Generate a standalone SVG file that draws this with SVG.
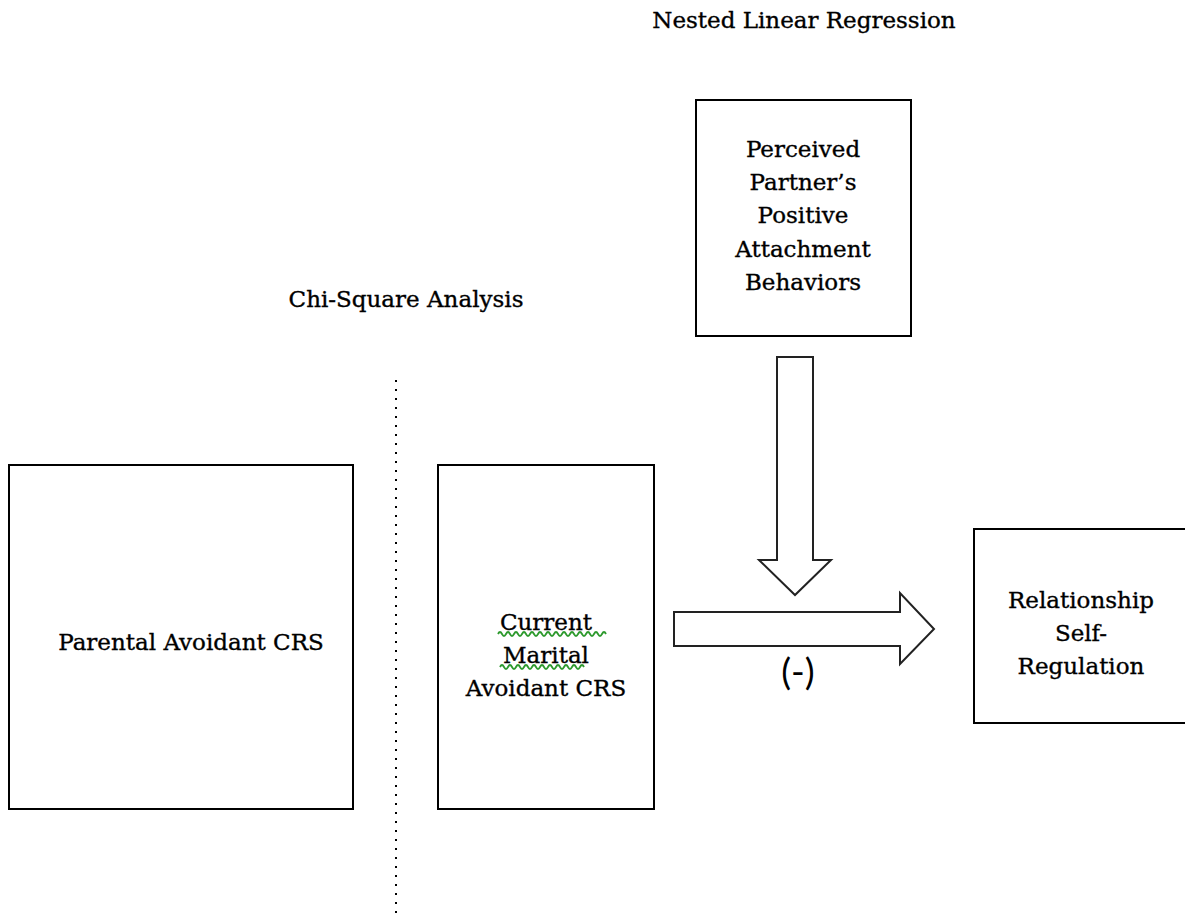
<svg xmlns="http://www.w3.org/2000/svg" width="1185" height="915" viewBox="0 0 1185 915">
  <style>
    .box { fill: #ffffff; stroke: #000000; stroke-width: 2; }
    .lbl { font-family: "DejaVu Serif", "Liberation Serif", serif; font-size: 23px; fill: #000000; stroke: #000000; stroke-width: 0.35; text-anchor: middle; }
    .title { font-family: "DejaVu Serif", "Liberation Serif", serif; font-size: 23px; fill: #000000; stroke: #000000; stroke-width: 0.35; text-anchor: middle; }
    .arrow { fill: #ffffff; stroke: #222222; stroke-width: 2; stroke-linejoin: miter; }
    .sign { font-family: Lato, "Liberation Sans", sans-serif; font-size: 37px; fill: #000000; text-anchor: middle; }
    .squiggle { fill: none; stroke: #2e9a2e; stroke-width: 1.8; }
  </style>
  <rect width="1185" height="915" fill="#ffffff"/>

  <!-- section headings -->
  <text class="title" x="804" y="28">Nested Linear Regression</text>
  <text class="title" x="406" y="307">Chi-Square Analysis</text>

  <!-- divider between analyses -->
  <line x1="396" y1="380" x2="396" y2="915" stroke="#000000" stroke-width="2" stroke-dasharray="2 7"/>

  <g id="node-parental">
    <rect class="box" x="9" y="465" width="344" height="344"/>
    <text class="lbl" x="191" y="650">Parental Avoidant CRS</text>
  </g>

  <g id="node-current">
    <rect class="box" x="438" y="465" width="216" height="344"/>
    <text class="lbl" x="546" y="630">Current</text>
    <text class="lbl" x="546" y="663">Marital</text>
    <text class="lbl" x="546" y="696">Avoidant CRS</text>
    <path class="squiggle" d="M498 634 q2 -4 4 0 t4 0 t4 0 t4 0 t4 0 t4 0 t4 0 t4 0 t4 0 t4 0 t4 0 t4 0 t4 0 t4 0 t4 0 t4 0 t4 0 t4 0 t4 0 t4 0 t4 0 t4 0 t4 0 t4 0 t4 0 t4 0 t4 0"/>
    <path class="squiggle" d="M500 667 q2 -4 4 0 t4 0 t4 0 t4 0 t4 0 t4 0 t4 0 t4 0 t4 0 t4 0 t4 0 t4 0 t4 0 t4 0 t4 0 t4 0 t4 0 t4 0 t4 0 t4 0 t4 0"/>
  </g>

  <g id="node-perceived">
    <rect class="box" x="696" y="100" width="215" height="236"/>
    <text class="lbl" x="803" y="157">Perceived</text>
    <text class="lbl" x="803" y="190">Partner’s</text>
    <text class="lbl" x="803" y="223">Positive</text>
    <text class="lbl" x="803" y="257">Attachment</text>
    <text class="lbl" x="803" y="290">Behaviors</text>
  </g>

  <g id="node-relationship">
    <rect class="box" x="974" y="529" width="220" height="194"/>
    <text class="lbl" x="1081" y="608">Relationship</text>
    <text class="lbl" x="1081" y="641">Self-</text>
    <text class="lbl" x="1081" y="674">Regulation</text>
  </g>

  <g id="connectors">
    <!-- moderator arrow pointing down onto the main path -->
    <path class="arrow" d="M777 357 H813 V560 H831 L795 595 L759 560 H777 Z"/>
    <!-- main path arrow -->
    <path class="arrow" d="M674 612 H900 V593 L934 629 L900 664 V646 H674 Z"/>
    <text class="sign" x="798" y="685">(-)</text>
  </g>
</svg>
